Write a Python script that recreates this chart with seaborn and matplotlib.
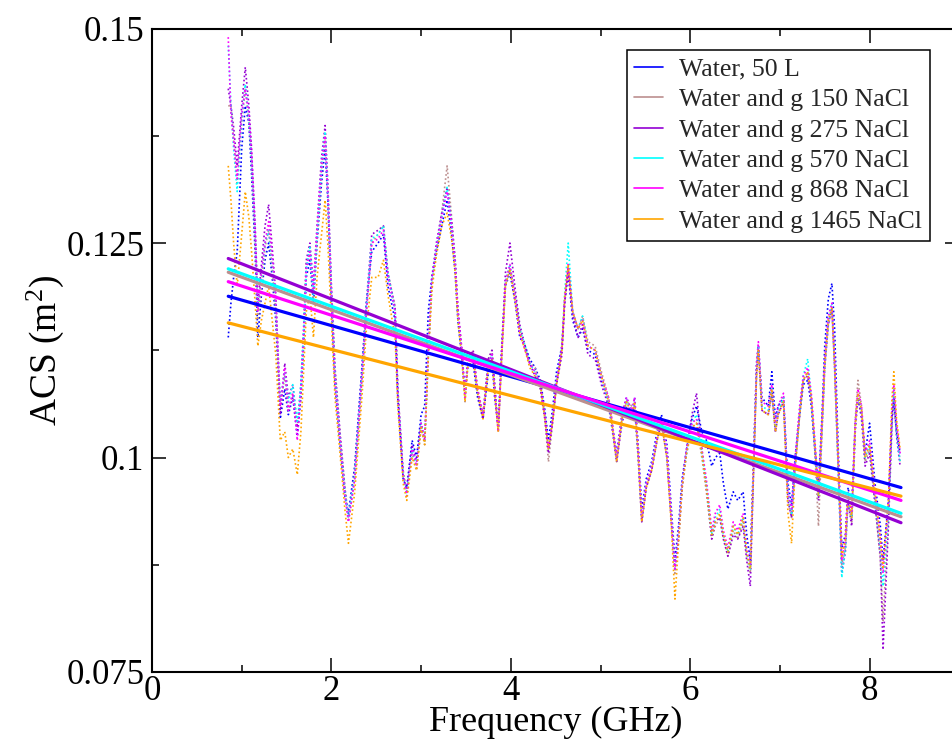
import matplotlib
matplotlib.use('Agg')  # no display
import matplotlib.pyplot as plt
from matplotlib.ticker import MultipleLocator, FuncFormatter
import seaborn as sns
import pandas as pd
import numpy as np

sns.set_theme(style="ticks")
plt.rcParams['font.family'] = ['Liberation Serif', 'DejaVu Serif']
plt.rcParams['mathtext.fontset'] = 'custom'
plt.rcParams['mathtext.rm'] = 'Liberation Serif'
plt.rcParams['mathtext.it'] = 'Liberation Serif:italic'

labels = ["Water, 50 L", "Water and g 150 NaCl", "Water and g 275 NaCl",
          "Water and g 570 NaCl", "Water and g 868 NaCl", "Water and g 1465 NaCl"]
colors = ["#0000ff", "#bc8f8f", "#9400d3", "#00ffff", "#ff00ff", "#ffa500"]

# frequency (GHz)
freq = [0.85, 0.88, 0.91, 0.95, 1.00, 1.04, 1.08, 1.11, 1.15, 1.18,
        1.22, 1.26, 1.30, 1.34, 1.38, 1.43, 1.48, 1.52, 1.57, 1.62,
        1.66, 1.69, 1.72, 1.76, 1.80, 1.84, 1.89, 1.93, 1.96, 2.00,
        2.04, 2.10, 2.15, 2.19, 2.26, 2.34, 2.39, 2.45, 2.52, 2.58,
        2.63, 2.71, 2.74, 2.80, 2.84, 2.90, 2.95, 3.00, 3.04, 3.08,
        3.12, 3.17, 3.23, 3.29, 3.34, 3.38, 3.41, 3.45, 3.49, 3.52,
        3.58, 3.63, 3.69, 3.75, 3.79, 3.82, 3.86, 3.90, 3.94, 3.99,
        4.05, 4.10, 4.16, 4.21, 4.27, 4.33, 4.38, 4.42, 4.47, 4.51,
        4.57, 4.60, 4.64, 4.69, 4.75, 4.80, 4.86, 4.94, 5.01, 5.09,
        5.12, 5.18, 5.24, 5.29, 5.35, 5.38, 5.42, 5.46, 5.51, 5.57,
        5.63, 5.68, 5.74, 5.79, 5.83, 5.87, 5.91, 5.96, 6.02, 6.07,
        6.13, 6.18, 6.24, 6.28, 6.33, 6.37, 6.42, 6.48, 6.53, 6.59,
        6.63, 6.67, 6.70, 6.74, 6.76, 6.80, 6.87, 6.91, 6.95, 6.98,
        7.04, 7.09, 7.13, 7.17, 7.22, 7.26, 7.31, 7.35, 7.39, 7.43,
        7.47, 7.50, 7.54, 7.58, 7.61, 7.65, 7.69, 7.73, 7.76, 7.80,
        7.84, 7.87, 7.91, 7.95, 8.00, 8.06, 8.12, 8.15, 8.21, 8.25,
        8.27, 8.30, 8.34]

# ACS in units of 1e-3 m^2
water_50l = [114, 118, 121, 124, 136, 141, 139, 133, 124, 114,
             119, 123, 125, 121, 116, 104.5, 108, 105, 107, 102.5,
             107, 113, 121, 123, 118, 125, 132, 136, 130, 118,
             108.5, 101, 95.5, 93.5, 99, 110.5, 118, 124, 125, 126,
             120, 116, 107, 97.5, 96.5, 102, 100, 105, 106, 117,
             121, 124, 127, 130, 126, 121.5, 116, 112, 107.5, 110.5,
             111, 107, 104.5, 110, 111.5, 107, 103.5, 113, 120, 121.5,
             118, 114, 113, 111.5, 110.5, 109, 105.5, 102, 106, 110,
             113, 118, 121.5, 116, 114, 115, 112.5, 112, 109, 106.5,
             104.5, 100.5, 105, 107, 105, 107, 101.5, 94, 97.5, 99.5,
             103, 105, 101.5, 94, 88, 92, 97.5, 101, 104.5, 106,
             103, 102, 99, 100, 100.5, 97, 94, 96, 95, 96,
             91, 88, 98, 111, 113, 107, 106, 110, 104.5, 106,
             107, 97, 94.5, 100, 105, 108.5, 109, 106, 101, 96.5,
             105, 113, 118.5, 120.3, 115, 101, 89.5, 91, 96.5, 94,
             104, 107, 105, 100.5, 104, 97, 92, 88, 95, 105,
             107, 103, 100.5]

nacl_150 = [141, 141, 137, 132, 139, 143, 139, 134.5, 125, 116,
            120, 124.5, 126.5, 122, 117, 106, 109.5, 105.5, 107.5, 103.5,
            107.5, 114, 122.5, 124, 118.5, 125.5, 133.5, 137.5, 130.5, 119.5,
            110, 102, 96.5, 92.5, 97.5, 109, 117, 125, 126, 127,
            121.5, 117.5, 108, 98.5, 96, 100.5, 98.5, 103.5, 101.5, 112,
            120, 124, 128.5, 134, 128, 123, 117, 113, 106.5, 111.5,
            112.5, 108, 105, 111.5, 112.5, 108.5, 103, 112, 120, 122,
            119, 115, 112.5, 111, 110.5, 108, 104.5, 99.5, 104.5, 108.5,
            112.5, 118, 122, 117, 115, 116.5, 113.5, 113, 110, 107,
            105, 99.5, 104.5, 106.5, 106, 106, 100, 92.5, 96.5, 98.5,
            102, 104.5, 100, 92.5, 86.5, 90.5, 96.5, 100.5, 103.5, 104,
            100, 96, 90.5, 92, 93, 90.5, 88.5, 91.5, 90.5, 92.5,
            88.5, 86.5, 96.5, 110, 112.5, 105.5, 105, 107.5, 103, 105,
            107, 95, 93, 99, 105, 109, 110, 107, 100.5, 92,
            103, 110.5, 115.5, 117, 110.5, 99, 87.5, 89.5, 95, 92.5,
            104.5, 109, 106, 99.5, 101, 95, 88, 81, 93, 104.5,
            107.5, 103, 99.5]

nacl_275 = [143, 141, 138.5, 134, 141, 145.5, 141, 136, 127, 118,
            122.5, 127, 129.5, 124.5, 119, 105, 111, 107, 108.5, 103.5,
            108.5, 115, 123, 125, 120, 127, 135, 138.7, 132, 120,
            110.5, 102.5, 96.5, 93, 98.5, 110, 118, 126, 126.5, 127,
            121.5, 117.5, 108, 98, 96, 101.5, 99.5, 104, 102, 112,
            121, 125, 128.5, 131.5, 127.5, 123, 117.5, 113, 107.5, 111.5,
            112.5, 107.5, 104.5, 111.5, 112.5, 108.5, 103, 113, 121.5, 125,
            119.5, 115.5, 113, 111, 109.5, 108, 104.5, 100.5, 104.5, 108.5,
            112, 118, 122, 116.5, 114, 115.5, 112, 111.5, 108.5, 106,
            104, 99.5, 104, 106, 105, 106, 100, 92.5, 96.5, 98.5,
            102, 104, 100, 92.5, 87, 90.5, 96.5, 101, 105, 107.5,
            101, 96.5, 90.5, 92.5, 93, 90.5, 88.5, 91, 90.5, 92,
            88, 85, 96, 110, 113, 105.5, 105, 107.5, 103, 105,
            106.5, 95, 93, 99, 105, 109, 109.5, 106.5, 101, 95,
            103.5, 110.5, 115.5, 117.5, 110.5, 98.5, 86.5, 89, 95, 92,
            103, 107, 104.5, 99, 100.5, 94.5, 88.5, 77.6, 92, 104,
            107, 102.5, 99]

nacl_570 = [148, 141, 136, 131, 139.5, 143.5, 139.5, 135, 126, 117.5,
            121, 125, 126.5, 123, 118, 106.5, 110, 106.5, 108.5, 104,
            108.5, 114.5, 122, 124.5, 119, 126, 134, 138, 131, 119,
            109.5, 101.5, 96, 93, 98, 109.5, 117.5, 125.5, 126, 127,
            121.5, 117, 107.5, 98, 95.5, 101, 99, 104, 102, 112.5,
            120.5, 124.5, 128, 131.5, 127, 122.5, 116.5, 112.5, 107, 111,
            112, 107.5, 105, 111, 112, 108, 103.5, 112.5, 120.5, 122.5,
            118.5, 115, 113, 111, 110, 108.5, 105, 101, 105, 109,
            113, 119, 125, 117, 115, 116.5, 113, 112.5, 109.5, 106.5,
            104.5, 100, 104.5, 106.5, 105.5, 106.5, 100.5, 93, 97, 99,
            102.5, 104.5, 100.5, 93, 87, 91, 97, 100.5, 104, 105,
            100.5, 97, 91, 93, 94, 91, 89, 92, 91, 93,
            89, 87, 97, 110.5, 113, 106, 105.5, 108, 103.5, 105.5,
            107, 96, 93.5, 99.5, 105.5, 109.5, 111.5, 107, 101.5, 95.5,
            104, 111, 116, 118, 111, 99, 86, 89.5, 95.5, 93,
            103.5, 107.5, 105.5, 100, 101.5, 95.5, 89.5, 85, 93.5, 105,
            108, 103, 99.5]

nacl_868 = [149, 140, 137, 132.5, 140, 143, 140, 135.5, 126.5, 117,
            121.5, 125, 127.5, 123.5, 118.5, 106, 110.5, 105.5, 107.5, 102,
            108, 114, 122, 124, 119.5, 126.5, 134, 137.5, 131, 119,
            109, 101.5, 95.5, 92.5, 97.5, 109.5, 117, 125, 125.5, 126.5,
            121, 117, 107.5, 98, 95.5, 101, 99, 104, 102, 113,
            120.5, 124.5, 128, 131, 127, 122.5, 117, 113, 107, 111,
            112, 108, 105, 111, 112, 108, 103, 112.5, 120.5, 122.5,
            118.5, 114.5, 112.5, 111, 110, 108.5, 105, 101, 105, 109,
            113, 118.5, 122.5, 117, 115, 116, 113, 112.5, 109.5, 107,
            105, 100, 105, 107, 105.5, 107, 101, 93, 97, 99,
            102.5, 104.5, 101, 93, 87, 91, 97, 101, 104, 104.5,
            101, 97.5, 91.5, 93.5, 94.5, 91.5, 89.5, 92.5, 91.5, 93.5,
            89.5, 87.5, 97.5, 111, 113.5, 106.5, 106, 108.5, 104, 106,
            107.5, 96, 94, 100, 106, 109.5, 110.5, 107.5, 102, 96,
            104.5, 111.5, 116.5, 118, 111.5, 100, 88, 90.5, 96, 93.5,
            104, 108, 106, 100.5, 102, 96, 90.5, 86.5, 94.5, 106,
            108.5, 104, 100.5]

nacl_1465 = [134, 130, 125, 120, 126, 131, 128, 124, 118, 113,
             116, 118, 120, 116, 112, 102, 103, 100, 101, 98,
             103, 110, 117, 119, 114, 121, 126, 130, 125, 116,
             107, 100, 94, 90, 96, 107, 115, 121, 121, 123,
             119, 114, 106, 97, 95, 100, 98.5, 103.5, 101.5, 111.5,
             119.5, 123.5, 127, 128.5, 125.5, 121.5, 116, 112, 106.5, 110.5,
             111.5, 107.5, 104.5, 110.5, 111.5, 107.5, 103, 112, 120, 122,
             118, 114.5, 112.5, 110.5, 109.5, 108.5, 104.5, 101, 104.5, 108.5,
             112.5, 118.5, 122.5, 117, 115, 116, 113, 112.5, 109.5, 106.5,
             104.5, 99.5, 104.5, 106.5, 105, 106.5, 100.5, 92.5, 96.5, 98.5,
             102, 104, 100, 92, 83.5, 90, 96.5, 100.5, 103.5, 104,
             100.5, 96.5, 91, 92.5, 93.5, 91, 89, 92, 91, 93,
             89, 87, 96.5, 109.5, 112.5, 105.5, 105, 108, 103, 105,
             106.5, 93.5, 90, 98.5, 105, 109, 110, 107, 101.5, 95.5,
             104, 111, 116, 117.5, 111, 99.5, 88.5, 90.5, 96, 93,
             103.5, 107.5, 105.5, 100, 101.5, 96, 90.5, 87, 95, 107,
             110, 104.5, 101]

series = [water_50l, nacl_150, nacl_275, nacl_570, nacl_868, nacl_1465]

# linear fits: value at start / end of the band (m^2)
fit_freq = [0.85, 8.35]
fit_start = [0.1188, 0.1216, 0.1232, 0.1220, 0.1205, 0.1157]
fit_end = [0.0965, 0.0931, 0.0924, 0.0935, 0.0950, 0.0955]

df = pd.concat([
    pd.DataFrame({"freq": freq, "acs": np.array(vals) * 1e-3, "sample": name})
    for name, vals in zip(labels, series)
], ignore_index=True)

fit = pd.concat([
    pd.DataFrame({"freq": fit_freq, "acs": [a, b], "sample": name})
    for name, a, b in zip(labels, fit_start, fit_end)
], ignore_index=True)

palette = dict(zip(labels, colors))

fig = plt.figure(figsize=(9.52, 7.45), dpi=100)
ax = fig.add_axes([152 / 952, 73 / 745, 807.3 / 952, 643.4 / 745])

sns.lineplot(data=df, x="freq", y="acs", hue="sample", hue_order=labels,
             palette=palette, estimator=None, sort=False, legend=False,
             linewidth=1.2, linestyle=(0, (1, 1.5)), ax=ax)
sns.lineplot(data=fit, x="freq", y="acs", hue="sample", hue_order=labels,
             palette=palette, estimator=None, sort=False,
             linewidth=2.3, ax=ax)

ax.set_xlim(0, 9)
ax.set_ylim(0.075, 0.15)
ax.xaxis.set_major_locator(MultipleLocator(2))
ax.xaxis.set_minor_locator(MultipleLocator(1))
ax.yaxis.set_major_locator(MultipleLocator(0.025))
ax.yaxis.set_minor_locator(MultipleLocator(0.0125))
ax.yaxis.set_major_formatter(FuncFormatter(lambda v, p: f"{v:g}"))
ax.xaxis.set_major_formatter(FuncFormatter(lambda v, p: f"{v:g}"))

ax.tick_params(which="both", direction="in", top=True, right=True,
               color="black", width=1.1, labelsize=25, labelcolor="black")
ax.tick_params(which="major", length=10)
ax.tick_params(which="minor", length=5)
ax.tick_params(axis="x", pad=2.5)
ax.tick_params(axis="y", pad=5.5)
for sp in ax.spines.values():
    sp.set_linewidth(1.5)
    sp.set_color("black")

ax.set_xlabel("Frequency (GHz)", fontsize=26, color="black")
ax.set_ylabel("ACS (m$^2$)", fontsize=27, color="black")
ax.xaxis.set_label_coords(0.5, -0.053)
ax.yaxis.set_label_coords(-0.107, 0.5)

leg = ax.get_legend()
handles = leg.legend_handles
for h in handles:
    h.set_linewidth(1.2)
ax.legend(handles, labels, loc="upper right",
          bbox_to_anchor=(930 / 952, 1 - 50 / 745), bbox_transform=fig.transFigure,
          borderaxespad=0, fontsize=18.5, frameon=True, fancybox=False,
          edgecolor="black", framealpha=1, handlelength=1.1, handletextpad=0.65,
          borderpad=0.3, labelspacing=0.29)
ax.get_legend().get_frame().set_linewidth(1.1)

fig.savefig("out.png", dpi=100)
